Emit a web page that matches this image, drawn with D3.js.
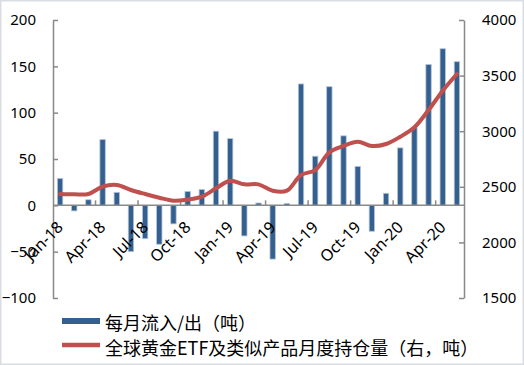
<!DOCTYPE html>
<html>
<head>
<meta charset="utf-8">
<script src="https://cdn.jsdelivr.net/npm/d3@7"></script>
<style>
  body { margin: 0; background: #fff; }
  text { font-family: "Noto Sans", "Noto Sans CJK SC", sans-serif; }
</style>
</head>
<body>
<div id="chart"></div>
<script>

// month labels, Jan-18 .. May-20
var months = ['Jan-18','Feb-18','Mar-18','Apr-18','May-18','Jun-18','Jul-18','Aug-18','Sep-18','Oct-18','Nov-18','Dec-18',
              'Jan-19','Feb-19','Mar-19','Apr-19','May-19','Jun-19','Jul-19','Aug-19','Sep-19','Oct-19','Nov-19','Dec-19',
              'Jan-20','Feb-20','Mar-20','Apr-20','May-20'];

// monthly flows (tonnes, left axis)
var flows = [29, -6, 6, 71, 14, -50, -36, -42, -20, 15, 17, 80,
             72, -33, 2.5, -58, 2, 131, 53, 128, 75, 42, -28, 13,
             62, 84, 152, 169, 155];

// global holdings (tonnes, right axis)
var holdings = [2435, 2432, 2435, 2501, 2516, 2471, 2435, 2402, 2375, 2385, 2411, 2486,
                2555, 2522, 2522, 2465, 2465, 2606, 2651, 2810, 2867, 2906, 2867, 2885,
                2950, 3035, 3190, 3364, 3514];

var leftTicks = [-100, -50, 0, 50, 100, 150, 200];
var rightTicks = [1500, 2000, 2500, 3000, 3500, 4000];
var xLabelEvery = 3;

var legendNames = ['每月流入/出（吨）', '全球黄金ETF及类似产品月度持仓量（右，吨）'];

var W = 524, H = 365;
var plot = { left: 53, right: 464, top: 20, bottom: 298 };
var axisColor = '#898989';

var svg = d3.select('#chart').append('svg')
    .attr('width', W)
    .attr('height', H);

svg.append('rect')
    .attr('x', 0.75).attr('y', 0.75)
    .attr('width', W - 1.5).attr('height', H - 1.5)
    .attr('fill', '#fff')
    .attr('stroke', '#d9dde3')
    .attr('stroke-width', 1.5);

var x = d3.scaleBand()
    .domain(months)
    .range([plot.left, plot.right])
    .paddingInner(0.62)
    .paddingOuter(0.31);

var yL = d3.scaleLinear().domain([-100, 200]).range([plot.bottom, plot.top]);
var yR = d3.scaleLinear().domain([1500, 4000]).range([plot.bottom, plot.top]);

function cx(m) { return x(m) + x.bandwidth() / 2; }

// left axis
var gl = svg.append('g')
    .attr('transform', 'translate(' + plot.left + ',0)')
    .call(d3.axisLeft(yL).tickValues(leftTicks).tickSizeInner(-5).tickSizeOuter(0).tickPadding(17));

// right axis
var gr = svg.append('g')
    .attr('transform', 'translate(' + plot.right + ',0)')
    .call(d3.axisRight(yR).tickValues(rightTicks).tickFormat(d3.format('d'))
        .tickSizeInner(-5).tickSizeOuter(0).tickPadding(18));

[gl, gr].forEach(function (g) {
    g.select('.domain').attr('stroke', axisColor).attr('stroke-width', 1.5);
    g.selectAll('.tick line').attr('stroke', axisColor).attr('stroke-width', 1.5);
    g.selectAll('.tick text')
        .attr('fill', '#000')
        .style('font-size', '15px')
        .style('font-family', '"Noto Sans", sans-serif');
});

// bars
svg.selectAll('.bar')
    .data(flows)
    .enter().append('rect')
    .attr('class', 'bar')
    .attr('x', function (d, i) { return x(months[i]); })
    .attr('y', function (d) { return yL(Math.max(0, d)); })
    .attr('width', x.bandwidth())
    .attr('height', function (d) { return Math.abs(yL(d) - yL(0)); })
    .attr('fill', '#33608f')
    .attr('stroke', '#b7c4d6')
    .attr('stroke-width', 0.8);

// zero line + category ticks
var y0 = yL(0);
svg.append('line')
    .attr('x1', plot.left).attr('x2', plot.right)
    .attr('y1', y0).attr('y2', y0)
    .attr('stroke', axisColor).attr('stroke-width', 1.5);

var gap = (x.step() - x.bandwidth()) / 2;
svg.selectAll('.cattick')
    .data(months.filter(function (m, i) { return i > 0 && i % xLabelEvery === 0; }))
    .enter().append('line')
    .attr('class', 'cattick')
    .attr('x1', function (m) { return x(m) - gap; })
    .attr('x2', function (m) { return x(m) - gap; })
    .attr('y1', y0).attr('y2', y0 - 5)
    .attr('stroke', axisColor).attr('stroke-width', 1.5);

svg.selectAll('.xlab')
    .data(months.filter(function (m, i) { return i % xLabelEvery === 0; }))
    .enter().append('text')
    .attr('class', 'xlab')
    .attr('transform', function (m) { return 'translate(' + (cx(m) + 4) + ',' + (y0 + 23) + ') rotate(-45)'; })
    .attr('text-anchor', 'end')
    .style('font-size', '16px')
    .text(function (m) { return m; });

// holdings line
var line = d3.line()
    .x(function (d, i) { return cx(months[i]); })
    .y(function (d) { return yR(d); })
    .curve(d3.curveCatmullRom.alpha(0.5));

svg.append('path')
    .datum(holdings)
    .attr('d', line)
    .attr('fill', 'none')
    .attr('stroke', '#c0504d')
    .attr('stroke-width', 4)
    .attr('stroke-linecap', 'round');

// legend
var lg = svg.append('g');
lg.append('rect')
    .attr('x', 62).attr('y', 318)
    .attr('width', 38).attr('height', 6)
    .attr('fill', '#33608f');
lg.append('line')
    .attr('x1', 62).attr('x2', 100)
    .attr('y1', 345).attr('y2', 345)
    .attr('stroke', '#c0504d')
    .attr('stroke-width', 4.5);
lg.selectAll('.lgtext')
    .data(legendNames)
    .enter().append('text')
    .attr('x', 105)
    .attr('y', function (d, i) { return 322 + i * 24.5; })
    .attr('dominant-baseline', 'central')
    .style('font-family', '"Noto Sans CJK SC", sans-serif')
    .style('font-size', '18px')
    .text(function (d) { return d; });

</script>
</body>
</html>
